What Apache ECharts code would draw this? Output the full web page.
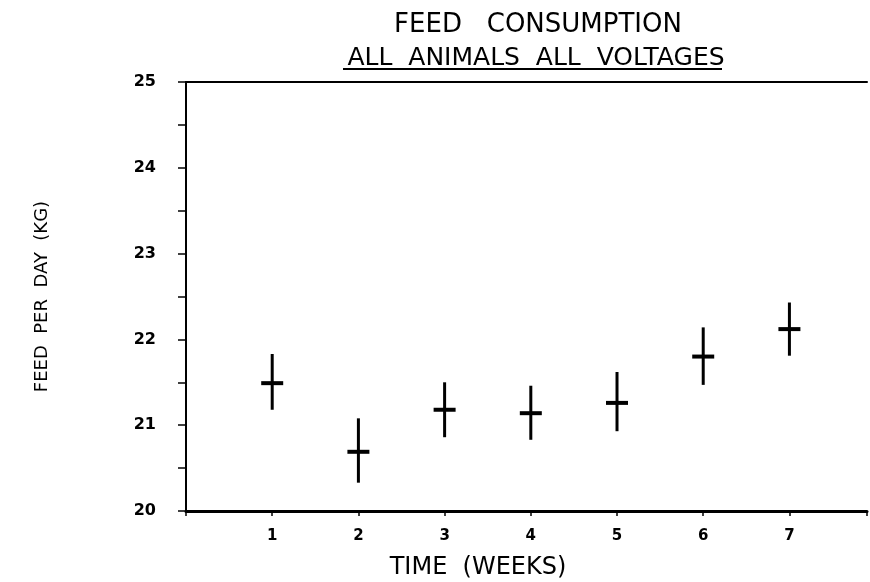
<!DOCTYPE html>
<html>
<head>
<meta charset="utf-8">
<script src="https://cdn.jsdelivr.net/npm/echarts@6/dist/echarts.min.js"></script>
<style>html,body{margin:0;padding:0;background:#fff;}#c{width:870px;height:582px;}</style>
</head>
<body>
<div id="c"></div>
<script>
var weeks = [1, 2, 3, 4, 5, 6, 7];
var means = [21.49, 20.69, 21.18, 21.14, 21.26, 21.80, 22.12];
var lows  = [21.18, 20.33, 20.86, 20.83, 20.93, 21.47, 21.81];
var highs = [21.83, 21.08, 21.50, 21.46, 21.62, 22.14, 22.43];
var yTickLabels = ['20', '21', '22', '23', '24', '25'];
var xTickLabels = ['1', '2', '3', '4', '5', '6', '7'];

var chart = echarts.init(document.getElementById('c'));
var data = weeks.map(function (w, i) { return [w, means[i], lows[i], highs[i]]; });
var font = 'DejaVu Sans';
chart.setOption({
  animation: false,
  backgroundColor: '#fff',
  title: [
    { text: 'FEED   CONSUMPTION', left: 533, top: 7, textAlign: 'center',
      textStyle: { fontFamily: font, fontSize: 26, fontWeight: 'normal', color: '#000' } },
    { text: 'ALL  ANIMALS  ALL  VOLTAGES', left: 531, top: 41, textAlign: 'center',
      textStyle: { fontFamily: font, fontSize: 25, fontWeight: 'normal', color: '#000' } },
    { text: 'TIME  (WEEKS)', left: 473, top: 551, textAlign: 'center',
      textStyle: { fontFamily: font, fontSize: 24, fontWeight: 'normal', color: '#000' } }
  ],
  graphic: [
    { type: 'line', shape: { x1: 343, y1: 69, x2: 722, y2: 69 }, style: { stroke: '#000', lineWidth: 2 } }
  ],
  grid: { left: 186, right: 0, top: 82, bottom: 71, containLabel: false },
  xAxis: [{
    type: 'value', min: 0, max: 7.9, interval: 1,
    axisLine: { show: true, onZero: false, lineStyle: { color: '#000', width: 3 } },
    axisTick: { show: true, length: 5, inside: false, lineStyle: { color: '#000', width: 1.5 } },
    axisLabel: { fontFamily: font, fontSize: 15, fontWeight: 'bold', color: '#000', margin: 18,
      formatter: function (v) { var i = weeks.indexOf(v); return i >= 0 ? xTickLabels[i] : ''; } },
    splitLine: { show: false }
  }, {
    type: 'value', position: 'top', min: 0, max: 7.9,
    axisLine: { show: true, onZero: false, lineStyle: { color: '#000', width: 2 } },
    axisTick: { show: false }, axisLabel: { show: false }, splitLine: { show: false }
  }],
  yAxis: {
    type: 'value', min: 20, max: 25, interval: 0.5,
    name: 'FEED  PER  DAY  (KG)', nameLocation: 'middle', nameGap: 135, nameRotate: 90,
    nameTextStyle: { fontFamily: font, fontSize: 18, color: '#000' },
    axisLine: { show: true, onZero: false, lineStyle: { color: '#000', width: 2 } },
    axisTick: { show: true, length: 8, inside: false, lineStyle: { color: '#000', width: 1.5 } },
    axisLabel: { fontFamily: font, fontSize: 16, fontWeight: 'bold', color: '#000', margin: 30,
      formatter: function (v) { var i = yTickLabels.indexOf(String(v)); return i >= 0 ? yTickLabels[i] : ''; } },
    splitLine: { show: false }
  },
  series: [{
    type: 'custom',
    data: data,
    renderItem: function (params, api) {
      var x = api.value(0);
      var c = api.coord([x, api.value(1)]);
      var lo = api.coord([x, api.value(2)]);
      var hi = api.coord([x, api.value(3)]);
      var hw = 11;
      return {
        type: 'group',
        children: [
          { type: 'line', shape: { x1: lo[0], y1: lo[1], x2: hi[0], y2: hi[1] }, style: { stroke: '#000', lineWidth: 3 } },
          { type: 'line', shape: { x1: c[0] - hw, y1: c[1], x2: c[0] + hw, y2: c[1] }, style: { stroke: '#000', lineWidth: 4 } }
        ]
      };
    }
  }]
});
</script>
</body>
</html>
